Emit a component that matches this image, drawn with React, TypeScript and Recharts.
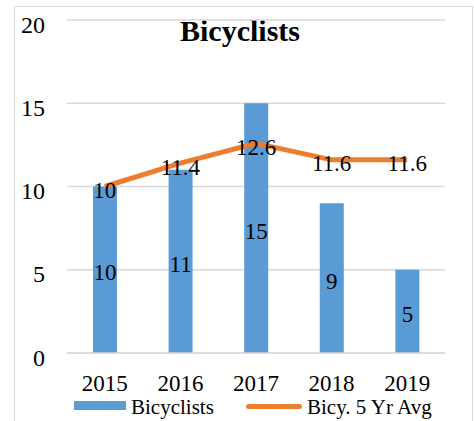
import React from 'react';
import { ComposedChart, Bar, Line, XAxis, YAxis, CartesianGrid, LabelList } from 'recharts';

const years = ['2015', '2016', '2017', '2018', '2019'];
const bicyclists = [10, 11, 15, 9, 5];
const fiveYrAvg = [10, 11.4, 12.6, 11.6, 11.6];
const yTicks = [0, 5, 10, 15, 20];

const data = years.map((year, i) => ({
  year,
  bicyclists: bicyclists[i],
  avg: fiveYrAvg[i],
}));

const FONT = '"Liberation Serif", "Times New Roman", serif';

const LineLabel = (props: any) => {
  const { x, y, value } = props;
  return (
    <text x={x} y={y + 4} textAnchor="middle" dominantBaseline="central" fontSize={23} fontFamily={FONT} fill="#000">
      {value}
    </text>
  );
};

const BarLabel = (props: any) => {
  const { x, y, width, height, value } = props;
  return (
    <text x={x + width / 2} y={y + height / 2 + 3} textAnchor="middle" dominantBaseline="central" fontSize={23} fontFamily={FONT} fill="#000">
      {value}
    </text>
  );
};

const ChartLegend = () => (
  <div style={{ position: 'absolute', left: 0, top: 398, width: 474, height: 22, fontFamily: FONT, fontSize: 21, color: '#000' }}>
    <div style={{ position: 'absolute', left: 74, top: 3, width: 52, height: 9, background: '#5B9BD5' }} />
    <div style={{ position: 'absolute', left: 131, top: -2, lineHeight: '22px' }}>Bicyclists</div>
    <div style={{ position: 'absolute', left: 246, top: 6, width: 56, height: 5, borderRadius: 3, background: '#ED7D31' }} />
    <div style={{ position: 'absolute', left: 307, top: -2, lineHeight: '22px' }}>Bicy. 5 Yr Avg</div>
  </div>
);

export default function App() {
  return (
    <div style={{ position: 'absolute', left: 0, top: 0, width: 474, height: 421, background: '#fff', overflow: 'hidden' }}>
      <div style={{ position: 'absolute', left: 14, top: 6, width: 457, height: 420, border: '1px solid #d9d9d9' }} />
      <div style={{ position: 'absolute', left: 0, width: 480, top: 14, textAlign: 'center', fontFamily: FONT, fontWeight: 'bold', fontSize: 30, color: '#000' }}>
        Bicyclists
      </div>
      <ComposedChart
        width={474}
        height={421}
        data={data}
        margin={{ top: 20, right: 29, bottom: 38, left: 0 }}
        style={{ fontFamily: FONT }}
      >
        <CartesianGrid vertical={false} stroke="#d9d9d9" strokeWidth={1.5} />
        <XAxis
          dataKey="year"
          height={30}
          tickLine={false}
          axisLine={{ stroke: '#d9d9d9', strokeWidth: 1.5 }}
          tick={{ fill: '#000', fontSize: 23, fontFamily: FONT }}
          tickMargin={16}
          interval={0}
        />
        <YAxis
          width={67}
          domain={[0, 20]}
          ticks={yTicks}
          tickLine={false}
          axisLine={false}
          tick={{ fill: '#000', fontSize: 24, fontFamily: FONT, dy: 4 }}
          tickMargin={16}
          interval={0}
        />
        <Bar dataKey="bicyclists" name="Bicyclists" fill="#5B9BD5" barSize={24} isAnimationActive={false}>
          <LabelList dataKey="bicyclists" content={BarLabel} />
        </Bar>
        <Line
          type="linear"
          dataKey="avg"
          name="Bicy. 5 Yr Avg"
          stroke="#ED7D31"
          strokeWidth={5}
          dot={false}
          isAnimationActive={false}
        >
          <LabelList dataKey="avg" content={LineLabel} />
        </Line>
      </ComposedChart>
      <ChartLegend />
    </div>
  );
}
